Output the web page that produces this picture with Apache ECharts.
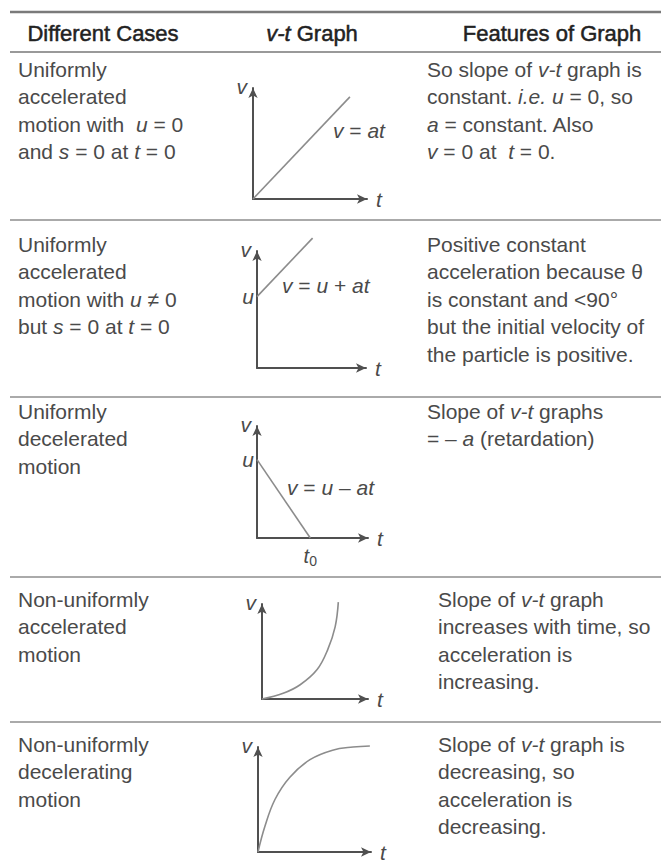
<!DOCTYPE html>
<html>
<head>
<meta charset="utf-8">
<script src="https://cdn.jsdelivr.net/npm/echarts@6/dist/echarts.min.js"></script>
<style>
  html, body { margin: 0; background: #fff; }
  #main { width: 661px; height: 867px; }
</style>
</head>
<body>
<div id="main"></div>
<script>
// table text ({i|..} = italic)
const headers = ['Different Cases', '{i|v-t} Graph', 'Features of Graph'];
const cases = [
  ['Uniformly', 'accelerated', 'motion with  {i|u} = 0', 'and {i|s} = 0 at {i|t} = 0'],
  ['Uniformly', 'accelerated', 'motion with {i|u} ≠ 0', 'but {i|s} = 0 at {i|t} = 0'],
  ['Uniformly', 'decelerated', 'motion'],
  ['Non-uniformly', 'accelerated', 'motion'],
  ['Non-uniformly', 'decelerating', 'motion']
];
const features = [
  ['So slope of {i|v-t} graph is', 'constant. {i|i.e. u} = 0, so', '{i|a} = constant. Also', '{i|v} = 0 at  {i|t} = 0.'],
  ['Positive constant', 'acceleration because θ', 'is constant and <90°', 'but the initial velocity of', 'the particle is positive.'],
  ['Slope of {i|v-t} graphs', '= – {i|a} (retardation)'],
  ['Slope of {i|v-t} graph', 'increases with time, so', 'acceleration is', 'increasing.'],
  ['Slope of {i|v-t} graph is', 'decreasing, so', 'acceleration is', 'decreasing.']
];
const equations = ['{i|v} = {i|at}', '{i|v} = {i|u} + {i|at}', '{i|v} = {i|u} – {i|at}'];

// v-t curves, [t, v]
const uniformAccel = [[0, 0], [8.5, 9.2]];
const accelWithU = [[0, 6.1], [5.1, 11.1]];
const uniformDecel = [[0, 7.0], [4.8, 0]];
const nonUniformAccel = [[0, 0], [2.0, 0.6], [3.6, 1.5], [5.2, 3.1], [6.2, 5.2], [6.9, 7.6], [7.2, 10.2]];
const nonUniformDecel = [[0, 0], [0.6, 2.4], [1.5, 5.0], [2.8, 7.1], [4.6, 8.8], [6.6, 9.7], [8.4, 10.0], [9.9, 10.1]];
const curves = [uniformAccel, accelWithU, uniformDecel, nonUniformAccel, nonUniformDecel];
const smoothFlags = [false, false, false, true, true];
const uIntercepts = [null, 6.1, 7.0, null, null];
const t0Values = [null, null, 4.8, null, null];

// layout
const FONT = '"Liberation Sans", Arial, sans-serif';
const TEXT = '#4a4a4a';
const SIZE = 21;
const grids = [
  { left: 253, top: 88, width: 114, height: 111 },
  { left: 257, top: 251, width: 109, height: 117 },
  { left: 257, top: 426, width: 111, height: 112 },
  { left: 262, top: 604, width: 106, height: 95 },
  { left: 258, top: 747, width: 113, height: 105 }
];
const rowCenters = [69, 244, 411, 599, 744];
const featureX = [427, 427, 427, 438, 438];
const rules = [[12, '#7a7a7a', 2.5], [52, '#999', 2], [220, '#aaa', 2], [397, '#aaa', 2], [577, '#aaa', 2], [722, '#aaa', 2]];
const eqPos = [[333, 130], [282, 285], [287, 487]];
const LH = 27.5;

const richText = (size, color) => ({
  i: { fontStyle: 'italic', fontSize: size, fontFamily: FONT, fill: color, lineHeight: LH },
  n: { fontSize: size, fontFamily: FONT, fill: color, lineHeight: LH }
});

function textEl(x, y, str, opts) {
  opts = opts || {};
  const size = opts.size || SIZE;
  const color = opts.color || TEXT;
  return {
    type: 'text', x: x, y: y, silent: true,
    style: {
      text: str, fontSize: size, fontFamily: FONT, fill: color, lineHeight: LH,
      align: opts.align || 'left', verticalAlign: opts.valign || 'top',
      stroke: opts.stroke || null, lineWidth: opts.stroke ? 0.5 : 0,
      rich: richText(size, color)
    }
  };
}

const graphic = [];
rules.forEach(r => {
  graphic.push({ type: 'line', silent: true, shape: { x1: 10, y1: r[0], x2: 661, y2: r[0] },
    style: { stroke: r[1], lineWidth: r[2] } });
});
[103, 312, 552].forEach((x, k) => {
  graphic.push(textEl(x, 33, headers[k], { size: 22, color: '#222', stroke: '#222', align: 'center', valign: 'middle' }));
});
cases.forEach((lines, k) => {
  graphic.push(textEl(18, rowCenters[k] - LH / 2, lines.join('\n')));
});
features.forEach((lines, k) => {
  graphic.push(textEl(featureX[k], rowCenters[k] - LH / 2, lines.join('\n')));
});
equations.forEach((eq, k) => {
  graphic.push(textEl(eqPos[k][0], eqPos[k][1], eq, { valign: 'middle' }));
});

const axisLine = {
  show: true, onZero: false, symbol: ['none', 'arrow'], symbolSize: [7, 10],
  lineStyle: { color: '#505050', width: 2 }
};
const nameStyle = { fontStyle: 'italic', fontSize: SIZE, fontFamily: FONT, color: TEXT };

const xAxis = grids.map((g, i) => ({
  gridIndex: i, type: 'value', min: 0, max: 10,
  axisLine: axisLine, axisTick: { show: false }, splitLine: { show: false },
  name: 't', nameLocation: 'end', nameGap: 9,
  nameTextStyle: Object.assign({ align: 'left', verticalAlign: 'middle' }, nameStyle),
  axisLabel: t0Values[i] == null ? { show: false } : {
    show: true, customValues: [t0Values[i]], margin: 6,
    formatter: () => '{i|t}{s|0}',
    rich: {
      i: { fontStyle: 'italic', fontSize: 20, fontFamily: FONT, color: TEXT },
      s: { fontSize: 14, fontFamily: FONT, color: TEXT, padding: [10, 0, 0, 0] }
    }
  }
}));

const yAxis = grids.map((g, i) => ({
  gridIndex: i, type: 'value', min: 0, max: 10,
  axisLine: axisLine, axisTick: { show: false }, splitLine: { show: false },
  name: 'v', nameLocation: 'end', nameGap: 2,
  nameTextStyle: Object.assign({ align: 'right', verticalAlign: 'middle', padding: [0, 6, 0, 0] }, nameStyle),
  axisLabel: uIntercepts[i] == null ? { show: false } : {
    show: true, customValues: [uIntercepts[i]], margin: 3,
    formatter: () => 'u',
    fontStyle: 'italic', fontSize: SIZE, fontFamily: FONT, color: TEXT
  }
}));

const series = curves.map((data, i) => ({
  type: 'line', xAxisIndex: i, yAxisIndex: i, data: data,
  showSymbol: false, symbol: 'none', smooth: smoothFlags[i] ? 0.4 : false, clip: false,
  lineStyle: { color: '#8c8c8c', width: 1.6 }, silent: true
}));

const chart = echarts.init(document.getElementById('main'), null, { renderer: 'svg' });
chart.setOption({
  animation: false,
  backgroundColor: '#fff',
  grid: grids.map(g => Object.assign({ containLabel: false }, g)),
  xAxis: xAxis,
  yAxis: yAxis,
  series: series,
  graphic: graphic
});
</script>
</body>
</html>
